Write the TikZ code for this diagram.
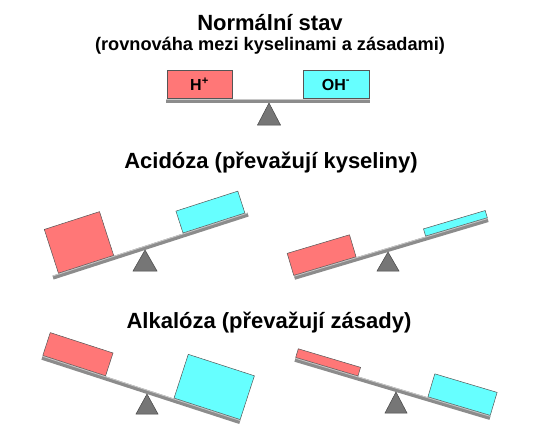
\documentclass[tikz,border=0pt]{standalone}
\usepackage{fontspec}
\setmainfont{Liberation Sans}
\usetikzlibrary{positioning}
\definecolor{AcidRed}{RGB}{255,119,119}
\definecolor{BaseCyan}{RGB}{102,255,255}
\definecolor{BoxLine}{RGB}{85,85,85}
\definecolor{BeamGray}{RGB}{140,140,140}
\definecolor{BeamLight}{RGB}{200,200,200}
\definecolor{StandGray}{RGB}{118,118,118}
\definecolor{StandLine}{RGB}{70,70,70}
\tikzset{
  kyselina/.style={draw=BoxLine,fill=AcidRed,line width=0.5pt},
  zasada/.style={draw=BoxLine,fill=BaseCyan,line width=0.5pt},
  paka/.style={fill=BeamGray},
  svetlo/.style={draw=BeamLight,line width=0.8pt},
  podpera/.style={draw=StandLine,fill=StandGray,line width=0.5pt},
  nadpis/.style={font=\bfseries\fontsize{22}{26}\selectfont},
  popis/.style={font=\bfseries\fontsize{16}{19}\selectfont}
}

\begin{document}
\begin{tikzpicture}[x=1pt,y=-1pt]
  \useasboundingbox (0,0) rectangle (540,423);
  \node[nadpis] (normal) at (270,23) {Normální stav};
  \node[font=\bfseries\fontsize{18.2}{21}\selectfont] (rovnovaha) at (270,46) {(rovnováha mezi kyselinami a zásadami)};
  \node[nadpis] (acidoza) at (271,163) {Acidóza (převažují kyseliny)};
  \node[nadpis] (alkaloza) at (269,323) {Alkalóza (převažují zásady)};

  % normalni stav
  \begin{scope}[shift={(269,103)}]
    \draw[podpera] (0,0) -- (-11.5pt,-22pt) -- (11.5pt,-22pt) -- cycle;
    \fill[paka] (-103pt,0pt) rectangle (101pt,4pt);
    \draw[svetlo] (-103pt,3.6pt) -- (101pt,3.6pt);
    \draw[kyselina] (-102pt,4.5pt) rectangle (-37pt,32.5pt);
    \draw[zasada] (34pt,4.5pt) rectangle (100pt,32.5pt);
    \node[popis] (hplus) at (-69.5pt,18.5pt) {H\textsuperscript{+}};
    \node[popis] (ohminus) at (67pt,18.5pt) {OH\textsuperscript{-}};
  \end{scope}

  % acidoza vlevo
  \begin{scope}[shift={(145,250)}]
    \draw[podpera] (0,0) -- (-12pt,-21pt) -- (12pt,-21pt) -- cycle;
    \begin{scope}[rotate=17.9]
      \fill[paka] (-96pt,0pt) rectangle (109pt,4pt);
      \draw[svetlo] (-96pt,3.6pt) -- (109pt,3.6pt);
      \draw[kyselina] (-89.5pt,4.5pt) rectangle (-31.5pt,50.5pt);
      \draw[zasada] (41.4pt,4.5pt) rectangle (106.4pt,27.5pt);
    \end{scope}
  \end{scope}

  % acidoza vpravo
  \begin{scope}[shift={(388,252)}]
    \draw[podpera] (0,0) -- (-11pt,-19pt) -- (11pt,-19pt) -- cycle;
    \begin{scope}[rotate=16.6]
      \fill[paka] (-97pt,0pt) rectangle (105pt,4pt);
      \draw[svetlo] (-97pt,3.6pt) -- (105pt,3.6pt);
      \draw[kyselina] (-97pt,4.5pt) rectangle (-32pt,27.5pt);
      \draw[zasada] (40.6pt,4.5pt) rectangle (105pt,12pt);
    \end{scope}
  \end{scope}

  % alkaloza vlevo
  \begin{scope}[shift={(147,394)}]
    \draw[podpera] (0,0) -- (-11pt,-20pt) -- (11pt,-20pt) -- cycle;
    \begin{scope}[rotate=-18]
      \fill[paka] (-111pt,0pt) rectangle (97pt,4pt);
      \draw[svetlo] (-111pt,3.6pt) -- (97pt,3.6pt);
      \draw[kyselina] (-111pt,4.5pt) rectangle (-45pt,28.5pt);
      \draw[zasada] (27pt,4.5pt) rectangle (96.5pt,50.5pt);
    \end{scope}
  \end{scope}

  % alkaloza vpravo
  \begin{scope}[shift={(396,392)}]
    \draw[podpera] (0,0) -- (-11pt,-21pt) -- (11pt,-21pt) -- cycle;
    \begin{scope}[rotate=-16.6]
      \fill[paka] (-106pt,0pt) rectangle (97.5pt,4pt);
      \draw[svetlo] (-106pt,3.6pt) -- (97.5pt,3.6pt);
      \draw[kyselina] (-106pt,4.5pt) rectangle (-41pt,13.5pt);
      \draw[zasada] (32pt,4.5pt) rectangle (97pt,28.5pt);
    \end{scope}
  \end{scope}
\end{tikzpicture}
\end{document}
